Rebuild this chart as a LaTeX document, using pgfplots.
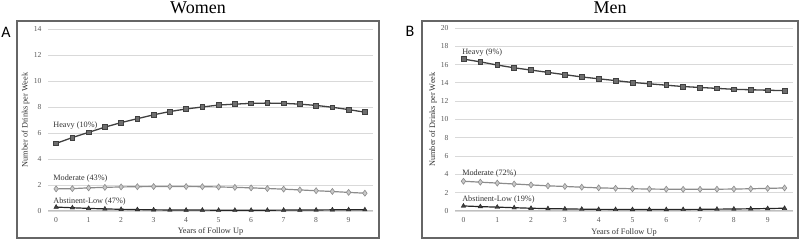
\documentclass[border=0pt]{standalone}
\usepackage{pgfplots}
\pgfplotsset{compat=1.18}
\usepackage{fontspec}
\setmainfont{Liberation Serif}
\newfontfamily\labfont{Carlito}
\definecolor{gridc}{HTML}{D9D9D9}
\definecolor{basec}{HTML}{BFBFBF}
\definecolor{boxc}{HTML}{666666}
\definecolor{tickc}{HTML}{595959}
\definecolor{heavyl}{HTML}{404040}
\definecolor{heavym}{HTML}{6E6E6E}
\definecolor{modl}{HTML}{8C8C8C}
\definecolor{modm}{HTML}{C8C8C8}
\definecolor{absline}{HTML}{262626}
\definecolor{absmark}{HTML}{404040}
\tikzset{serlab/.style={anchor=west, font=\fontsize{8.2}{9}\selectfont, text=black!80, inner sep=0pt}}
\pgfplotsset{
  panel/.style={
    scale only axis,
    anchor=south west,
    xmin=-0.25, xmax=9.75, ymin=0,
    axis line style={draw=none},
    major tick length=0pt,
    xtick={0,1,...,9},
    ymajorgrids, grid style={gridc, line width=0.8pt},
    extra y ticks={0}, extra y tick labels={},
    extra y tick style={grid style={basec, line width=1pt}},
    tick label style={font=\fontsize{7.6}{8}\selectfont, text=tickc},
    /pgf/number format/assume math mode=true,
    yticklabel style={xshift=-3pt},
    xticklabel style={yshift=-3pt},
    label style={font=\fontsize{8.3}{9}\selectfont, text=black!80},
    xlabel={Years of Follow Up},
    ylabel={Number of Drinks per Week},
    xlabel style={at={(axis description cs:0.5,-0.115)}, anchor=center},
    clip=false,
  },
  heavyser/.style={heavyl, line width=1.3pt, mark=square*, mark size=2.4pt,
    mark options={fill=heavym, draw=heavyl, line width=0.6pt}},
  modser/.style={modl, line width=1.2pt, mark=diamond*, mark size=3pt,
    mark options={fill=modm, draw=modl, line width=0.6pt}},
  absser/.style={absline, line width=1.2pt, mark=triangle*, mark size=2.6pt,
    mark options={fill=absmark, draw=absline, line width=0.4pt}},
}
\begin{document}
\begin{tikzpicture}
\useasboundingbox (0pt,0pt) rectangle (800pt,240pt);
% frames
\draw[boxc, line width=1.5pt] (17pt,2pt) rectangle (379pt,219pt);
\draw[boxc, line width=1.5pt] (422pt,2pt) rectangle (798pt,219pt);
% titles
\node[font=\fontsize{18}{20}\selectfont] at (198pt,232pt) {Women};
\node[font=\fontsize{18}{20}\selectfont] at (610pt,232pt) {Men};
\node[font=\labfont\fontsize{16}{18}\selectfont] at (6pt,208pt) {A};
\node[font=\labfont\fontsize{16}{18}\selectfont] at (410pt,209pt) {B};

\begin{axis}[panel, at={(48pt,29pt)}, width=325pt, height=182pt,
  ymax=14, ytick={0,2,...,14},
  ylabel style={at={(axis description cs:-0.069,0.5)}, anchor=center}]
\addplot[heavyser] coordinates {(0,5.2)(0.5,5.65)(1,6.05)(1.5,6.45)(2,6.8)(2.5,7.1)(3,7.4)(3.5,7.65)(4,7.85)(4.5,8.0)(5,8.15)(5.5,8.22)(6,8.28)(6.5,8.3)(7,8.28)(7.5,8.22)(8,8.12)(8.5,7.98)(9,7.8)(9.5,7.6)};
\addplot[modser] coordinates {(0,1.7)(0.5,1.72)(1,1.78)(1.5,1.82)(2,1.85)(2.5,1.87)(3,1.88)(3.5,1.88)(4,1.88)(4.5,1.87)(5,1.85)(5.5,1.82)(6,1.78)(6.5,1.73)(7,1.68)(7.5,1.62)(8,1.56)(8.5,1.5)(9,1.43)(9.5,1.37)};
\addplot[absser] coordinates {(0,0.3)(0.5,0.25)(1,0.2)(1.5,0.16)(2,0.13)(2.5,0.11)(3,0.09)(3.5,0.08)(4,0.07)(4.5,0.07)(5,0.06)(5.5,0.06)(6,0.06)(6.5,0.06)(7,0.07)(7.5,0.07)(8,0.08)(8.5,0.09)(9,0.1)(9.5,0.1)};
\node[serlab] at (axis cs:-0.09,6.6) {Heavy (10\%)};
\node[serlab] at (axis cs:-0.09,2.5) {Moderate (43\%)};
\node[serlab] at (axis cs:-0.09,0.72) {Abstinent-Low (47\%)};
\end{axis}

\begin{axis}[panel, at={(455pt,29pt)}, width=338pt, height=183pt,
  ymax=20, ytick={0,2,...,20},
  ylabel style={at={(axis description cs:-0.065,0.5)}, anchor=center}]
\addplot[heavyser] coordinates {(0,16.6)(0.5,16.3)(1,15.95)(1.5,15.65)(2,15.4)(2.5,15.15)(3,14.9)(3.5,14.65)(4,14.45)(4.5,14.25)(5,14.05)(5.5,13.9)(6,13.75)(6.5,13.6)(7,13.5)(7.5,13.4)(8,13.3)(8.5,13.25)(9,13.2)(9.5,13.15)};
\addplot[modser] coordinates {(0,3.25)(0.5,3.15)(1,3.05)(1.5,2.95)(2,2.85)(2.5,2.75)(3,2.68)(3.5,2.6)(4,2.53)(4.5,2.48)(5,2.43)(5.5,2.4)(6,2.38)(6.5,2.37)(7,2.37)(7.5,2.38)(8,2.4)(8.5,2.43)(9,2.47)(9.5,2.52)};
\addplot[absser] coordinates {(0,0.55)(0.5,0.48)(1,0.42)(1.5,0.36)(2,0.3)(2.5,0.26)(3,0.23)(3.5,0.2)(4,0.18)(4.5,0.17)(5,0.16)(5.5,0.16)(6,0.16)(6.5,0.17)(7,0.18)(7.5,0.2)(8,0.22)(8.5,0.24)(9,0.27)(9.5,0.3)};
\node[serlab] at (axis cs:-0.04,17.3) {Heavy (9\%)};
\node[serlab] at (axis cs:-0.04,4.05) {Moderate (72\%)};
\node[serlab] at (axis cs:-0.04,1.28) {Abstinent-Low (19\%)};
\end{axis}
\end{tikzpicture}
\end{document}
